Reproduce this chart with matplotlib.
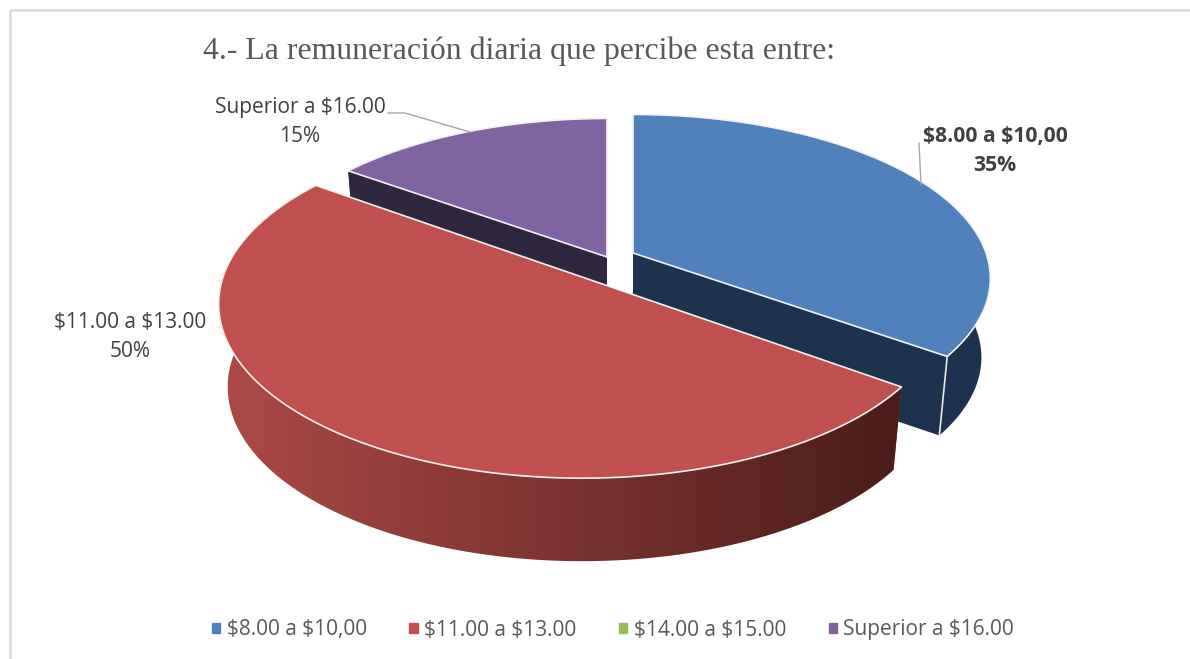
import numpy as np
import matplotlib
matplotlib.use('Agg')
import matplotlib.pyplot as plt
from matplotlib.colors import LinearSegmentedColormap
from matplotlib.patches import Patch, Polygon, Rectangle

plt.rcParams['text.parse_math'] = False

# datos del grafico
categorias = ['$8.00 a $10,00', '$11.00 a $13.00', '$14.00 a $15.00', 'Superior a $16.00']
valores = [35, 50, 0, 15]
colores = ['#4f81bd', '#c0504d', '#9bbb59', '#8064a2']
colores_pared = ['#1c324e', '#a94a46', '#4e6030', '#2f2640']

# cada porcion esta separada a mano: centro x, centro y, radio x, radio y, alto
geom = {0: (633, 253, 353, 160, 79), 1: (582, 277, 359, 170, 83), 3: (607, 257, 349, 160, 80)}
persp = 0.155
escala_base = 0.975

fig = plt.figure(figsize=(11.9, 6.59), dpi=100)
ax = fig.add_axes([0, 0, 1, 1])
ax.axis('off')

ax.add_patch(Rectangle((10, 10), 1300, 800, fill=False, ec='#d9d9d9', lw=1.8))


def proy(theta, i, abajo=False):
    cx, cy, a, b, alto = geom[i]
    u = np.sin(theta)
    v = np.cos(theta)
    w = 1 + persp * v
    sx = a * u / w
    sy = -b * v / w
    if abajo:
        return cx + escala_base * sx, cy + sy + alto
    return cx + sx, cy + sy


# angulos de inicio y fin a partir de los valores
acum = np.cumsum([0] + valores) / sum(valores) * 2 * np.pi
for i in [3, 0, 1]:
    t = np.linspace(acum[i], acum[i + 1], 160)
    tx, ty = proy(t, i)
    bx, by = proy(t, i, True)
    c0 = geom[i][:2]
    c1 = (c0[0], c0[1] + geom[i][4])
    # caras interiores
    for j in [0, -1]:
        ax.add_patch(Polygon([c0, (tx[j], ty[j]), (bx[j], by[j]), c1], fc=colores_pared[i], ec='none'))
    # pared exterior, el rojo con degradado
    pared = np.vstack([np.column_stack([tx, ty]), np.column_stack([bx, by])[::-1]])
    if i == 1:
        cmap = LinearSegmentedColormap.from_list('pared', ['#ab4a45', '#4a1c19'])
        borde = Polygon(pared, fc='none', ec='none')
        ax.add_patch(borde)
        ax.add_patch(Rectangle((200, 250), 28, 350, fc='#ab4a45', ec='none', clip_path=borde))
        im = ax.imshow(np.linspace(0, 1, 256)[None, :], cmap=cmap, extent=(228, 905, 600, 250),
                       aspect='auto', interpolation='bilinear', zorder=1)
        im.set_clip_path(borde)
    else:
        ax.add_patch(Polygon(pared, fc=colores_pared[i], ec='none'))
    # costura de la pared azul
    if i == 0:
        ax.plot([tx[-1], bx[-1]], [ty[-1], by[-1]], color='#e8e8e8', lw=1.2)
    # cara superior
    poli = np.vstack([[c0], np.column_stack([tx, ty])])
    ax.add_patch(Polygon(poli, closed=True, fc=colores[i], ec='#f2f2f2', lw=1.2, joinstyle='round', zorder=1))

ax.set_xlim(0, 1190)
ax.set_ylim(659, 0)

# titulo y etiquetas
ax.text(203, 51, '4.- La remuneración diaria que percibe esta entre:', family='Liberation Serif',
        fontsize=22.9, color='#595959', ha='left', va='center')
ax.text(300, 122, categorias[3] + '\n' + str(valores[3]) + '%', family='Open Sans', fontsize=15,
        color='#404040', ha='center', va='center', linespacing=1.46)
ax.text(995, 151, categorias[0] + '\n' + str(valores[0]) + '%', family='Open Sans', fontsize=15.2,
        weight='bold', color='#404040', ha='center', va='center', linespacing=1.46)
ax.text(130, 337, categorias[1] + '\n' + str(valores[1]) + '%', family='Open Sans', fontsize=15,
        color='#404040', ha='center', va='center', linespacing=1.5)

# lineas guia
ax.plot([388, 405, 470], [113, 113, 132], color='#a6a6a6', lw=1)
ax.plot([919, 921], [143, 184], color='#a6a6a6', lw=1)

# leyenda
handles = [Patch(color=c) for c in colores]
ax.legend(handles, categorias, loc='center', bbox_to_anchor=(613, 630), bbox_transform=ax.transData,
          ncol=4, frameon=False, handlelength=0.4, handleheight=0.4, handletextpad=0.3, columnspacing=2.05,
          labelcolor='#595959', prop={'family': 'Open Sans', 'size': 15})

fig.savefig('out.png', dpi=100)
